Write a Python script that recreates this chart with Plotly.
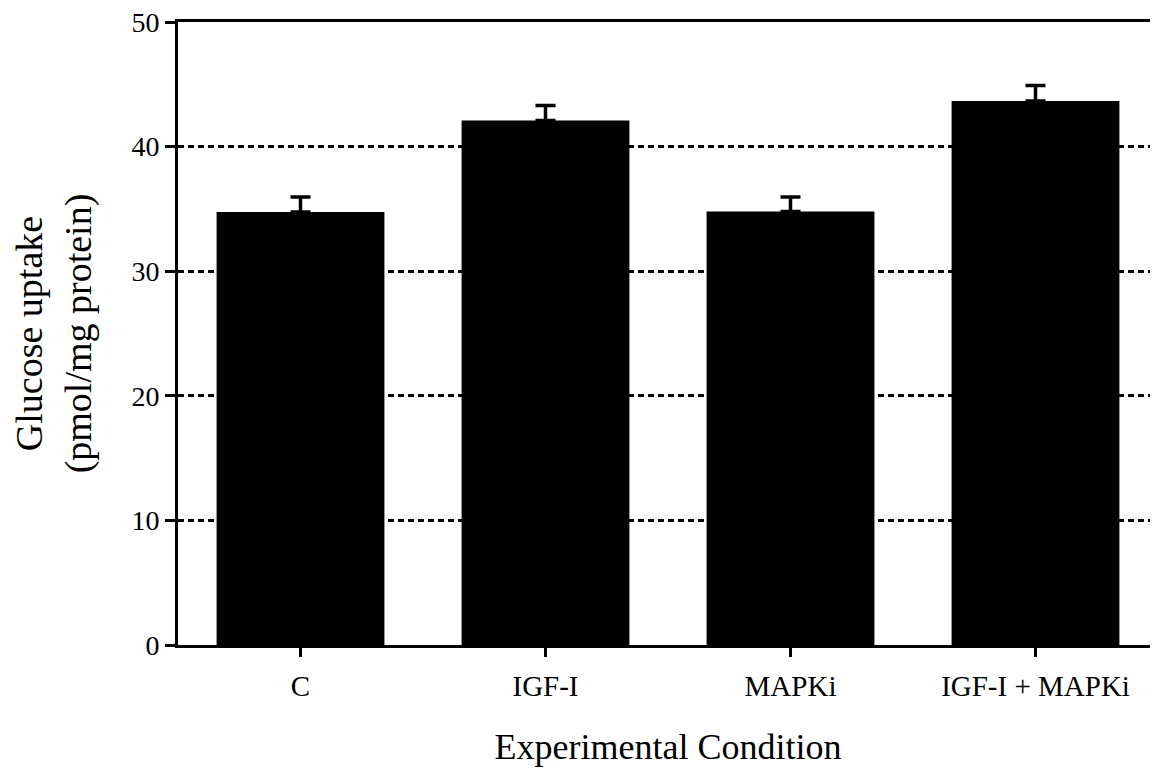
import plotly.graph_objects as go

categories = ["C", "IGF-I", "MAPKi", "IGF-I + MAPKi"]
uptake = [34.75, 42.1, 34.8, 43.65]
sem = [1.2, 1.2, 1.15, 1.25]
y_ticks = [0, 10, 20, 30, 40, 50]

font_family = "Liberation Serif"

fig = go.Figure()
fig.add_trace(go.Bar(
    x=categories, y=uptake,
    width=0.685,
    marker=dict(color="black", line=dict(width=0)),
    error_y=dict(type="data", symmetric=False, array=sem,
                 arrayminus=[0] * len(sem),
                 color="black", thickness=3.5, width=10),
))

fig.update_layout(
    width=1150, height=764,
    margin=dict(l=170, r=0, t=14, b=127),
    paper_bgcolor="white", plot_bgcolor="white",
    showlegend=False,
    font=dict(family=font_family, color="black", size=28),
    xaxis=dict(
        range=[-0.5, 3.5],
        automargin=False,
        showline=True, linecolor="black", linewidth=3,
        mirror=True,
        ticks="outside", ticklen=9, tickwidth=3, tickcolor="black",
        ticklabelstandoff=4,
        showgrid=False,
        tickfont=dict(size=29, family=font_family),
        title=dict(text="Experimental Condition", standoff=34,
                   font=dict(size=36, family=font_family)),
    ),
    yaxis=dict(
        range=[0, 50],
        automargin=False,
        tickvals=y_ticks,
        ticklabeloverflow="allow",
        showline=True, linecolor="black", linewidth=3,
        ticks="outside", ticklen=10, tickwidth=3, tickcolor="black",
        showgrid=True, gridcolor="black", gridwidth=2.8,
        griddash="6px,4px",
        zeroline=False,
        tickfont=dict(size=28, family=font_family),
        title=dict(text="Glucose uptake<br>(pmol/mg protein)", standoff=30,
                   font=dict(size=38, family=font_family)),
    ),
)

fig.write_html("out.html")
